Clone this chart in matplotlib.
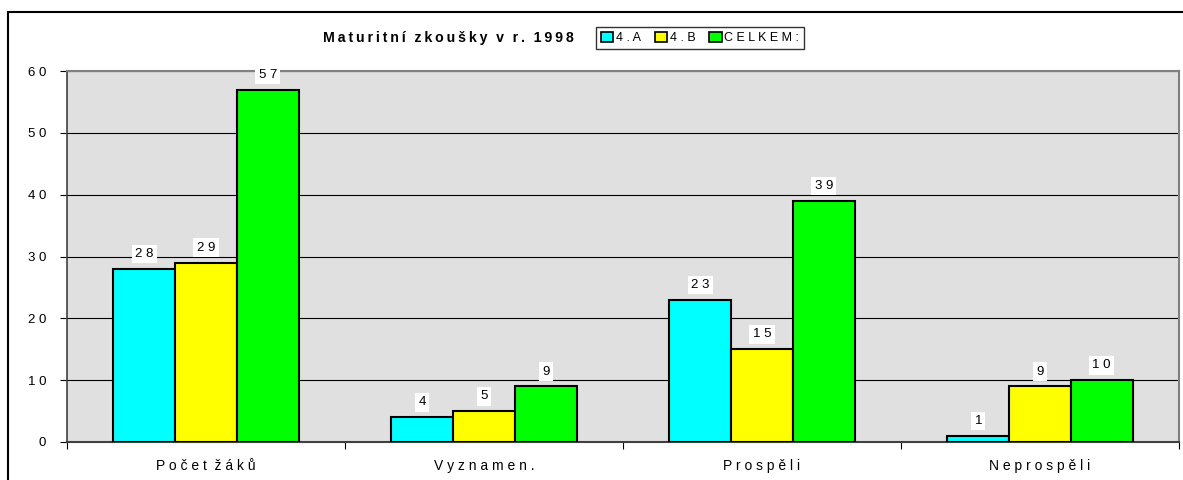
import numpy as np
import matplotlib.pyplot as plt
from matplotlib.patches import Rectangle, Patch

plt.rcParams["font.family"] = ["Liberation Sans", "DejaVu Sans"]
plt.rcParams["font.size"] = 9.5

# data
categories = ["Počet žáků", "Vyznamen.", "Prospěli", "Neprospěli"]
series_names = ["4.A", "4.B", "CELKEM:"]
val_4a = [28, 4, 23, 1]
val_4b = [29, 5, 15, 9]
val_celkem = [57, 9, 39, 10]
colors = ["#00FFFF", "#FFFF00", "#00FF00"]
yticks = [0, 10, 20, 30, 40, 50, 60]

TS = "\u2009"


def spaced(s, gap=TS, word=3):
    # excel-like letter spacing
    words = s.split(" ")
    return (gap * word).join(gap.join(w) for w in words)


fig = plt.figure(figsize=(11.83, 4.8), dpi=100)
ax = fig.add_axes([67 / 1183, 1 - 442 / 480, (1179 - 67) / 1183, (442 - 71) / 480])
ax.set_facecolor("#E0E0E0")

x = np.arange(len(categories))
w = 0.222
for i, vals in enumerate([val_4a, val_4b, val_celkem]):
    pos = x + (i - 1) * w
    ax.bar(pos, vals, width=w, color=colors[i], edgecolor="black", linewidth=1.5, zorder=3)
    for p, v in zip(pos, vals):
        ax.text(p, v + 2.4, spaced(str(v), " "), ha="center", va="center", fontsize=9.5,
                zorder=4, bbox=dict(facecolor="white", edgecolor="none", pad=2.5))

ax.set_xlim(-0.5, 3.5)
ax.set_ylim(0, 60)
ax.set_yticks(yticks)
ax.set_yticklabels([spaced(str(t), " ") for t in yticks])
ax.yaxis.grid(True, color="black", linewidth=0.8, zorder=1)
ax.set_axisbelow(True)

ax.set_xticks(np.arange(-0.5, 4, 1))
ax.set_xticklabels([])
ax.set_xticks(x, minor=True)
ax.set_xticklabels([spaced(c, " ", 2) for c in categories], minor=True, fontsize=10)
ax.tick_params(axis="x", which="minor", length=0, pad=12)
ax.tick_params(axis="x", which="major", length=5, direction="out")
ax.tick_params(axis="y", length=5, direction="out", pad=10)

for s in ["top", "right"]:
    ax.spines[s].set_color("#808080")
    ax.spines[s].set_linewidth(1.5)
ax.spines["left"].set_color("#404040")
ax.spines["bottom"].set_color("#404040")
ax.spines["left"].set_linewidth(1.2)
ax.spines["bottom"].set_linewidth(1.5)

# title
fig.text(448 / 1183, 1 - 38 / 480, spaced("Maturitní zkoušky v r. 1998"),
         ha="center", va="center", fontsize=10.2, fontweight="bold")

# legend
handles = [Patch(facecolor=c, edgecolor="black", linewidth=1.2) for c in colors]
fig.legend(handles, [spaced(n, " ") for n in series_names], loc="center",
           bbox_to_anchor=(700 / 1183, 1 - 38 / 480), ncol=3, frameon=True,
           fancybox=False, edgecolor="black", fontsize=9, handlelength=1.0,
           handleheight=0.9, handletextpad=0.2, columnspacing=1.1,
           borderpad=0.4, borderaxespad=0)

# outer chart border
fig.patches.append(Rectangle((8 / 1183, -0.5), 2, 0.5 + 1 - 12 / 480,
                             transform=fig.transFigure, fill=False,
                             edgecolor="black", linewidth=1.5))

fig.savefig("out.png", dpi=100)
